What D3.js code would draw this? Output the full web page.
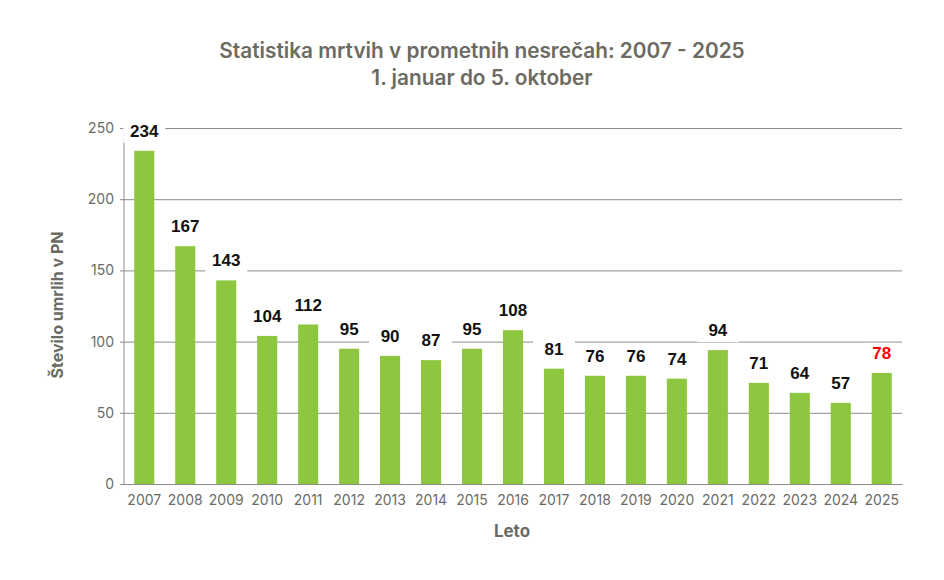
<!DOCTYPE html>
<html>
<head>
<meta charset="utf-8">
<script src="https://cdn.jsdelivr.net/npm/d3@7"></script>
<style>
  body { margin: 0; background: #fff; }
  svg { display: block; }
</style>
</head>
<body>
<svg width="944" height="580"></svg>
<script>
// leta in število umrlih (1. januar do 5. oktober)
const years = ['2007','2008','2009','2010','2011','2012','2013','2014','2015','2016',
               '2017','2018','2019','2020','2021','2022','2023','2024','2025'];
const deaths = [234, 167, 143, 104, 112, 95, 90, 87, 95, 108, 81, 76, 76, 74, 94, 71, 64, 57, 78];
const yTicks = [0, 50, 100, 150, 200, 250];

const data = years.map((y, i) => ({year: y, value: deaths[i]}));

const margin = {top: 128, right: 42, bottom: 96, left: 124};
const width = 944, height = 580;

const svg = d3.select('svg');

const x = d3.scaleBand()
    .domain(years)
    .range([margin.left, width - margin.right])
    .paddingInner(0.51)
    .paddingOuter(0.25);

const y = d3.scaleLinear()
    .domain([0, 250])
    .range([height - margin.bottom, margin.top]);

// naslov
const title = svg.append('text')
    .attr('x', 482)
    .attr('text-anchor', 'middle')
    .style('font-family', 'Inter, sans-serif')
    .style('font-weight', 600)
    .style('font-size', '20.8px')
    .attr('fill', '#6b6b63');
title.append('tspan').attr('x', 482).attr('y', 58).text('Statistika mrtvih v prometnih nesrečah: 2007 - 2025');
title.append('tspan').attr('x', 482).attr('y', 85).text('1. januar do 5. oktober');

// mreža
const yAxis = d3.axisLeft(y)
    .tickValues(yTicks)
    .tickSize(-(width - margin.right - margin.left))
    .tickPadding(10);

const gy = svg.append('g')
    .attr('transform', `translate(${margin.left},0)`)
    .call(yAxis);
gy.select('.domain').remove();
gy.selectAll('.tick line').attr('stroke', '#8c8c8c').attr('x1', -4);
gy.selectAll('.tick text')
    .attr('fill', '#6b6b63')
    .style('font-family', 'Inter, sans-serif')
    .style('font-size', '14px');

// os y
svg.append('line')
    .attr('x1', margin.left).attr('x2', margin.left)
    .attr('y1', y(250)).attr('y2', y(0))
    .attr('stroke', '#8c8c8c');

// stolpci
svg.selectAll('.bar')
    .data(data)
    .enter()
    .append('rect')
    .classed('bar', true)
    .attr('x', d => x(d.year))
    .attr('y', d => y(d.value))
    .attr('width', x.bandwidth())
    .attr('height', d => y(0) - y(d.value))
    .attr('fill', '#8dc63f');

// os x
const gx = svg.append('g')
    .attr('transform', `translate(0,${y(0)})`)
    .call(d3.axisBottom(x).tickSize(0).tickPadding(11));
gx.select('.domain').attr('stroke', '#8c8c8c');
gx.selectAll('.tick text')
    .attr('fill', '#6b6b63')
    .style('font-family', 'Inter, sans-serif')
    .style('font-size', '14px');

// oznake vrednosti z belim ozadjem
const labels = svg.selectAll('.lbl')
    .data(data)
    .enter()
    .append('g')
    .classed('lbl', true)
    .attr('transform', d => `translate(${x(d.year) + x.bandwidth() / 2},${y(d.value) - 14})`);

labels.append('rect')
    .attr('x', -21).attr('y', -16)
    .attr('width', 42).attr('height', 22)
    .attr('fill', '#fff');

labels.append('text')
    .attr('text-anchor', 'middle')
    .style('font-family', '"Liberation Sans", Arial, sans-serif')
    .style('font-weight', 'bold')
    .style('font-size', '17px')
    .attr('fill', (d, i) => i === data.length - 1 ? '#ff0000' : '#111')
    .text(d => d.value);

// naslovi osi
svg.append('text')
    .attr('x', 512).attr('y', 537)
    .attr('text-anchor', 'middle')
    .style('font-family', 'Inter, sans-serif')
    .style('font-weight', 700)
    .style('font-size', '17px')
    .attr('fill', '#6b6b63')
    .text('Leto');

svg.append('text')
    .attr('transform', 'translate(63,305) rotate(-90)')
    .attr('text-anchor', 'middle')
    .style('font-family', 'Inter, sans-serif')
    .style('font-weight', 700)
    .style('font-size', '16px')
    .attr('fill', '#6b6b63')
    .text('Število umrlih v PN');
</script>
</body>
</html>
